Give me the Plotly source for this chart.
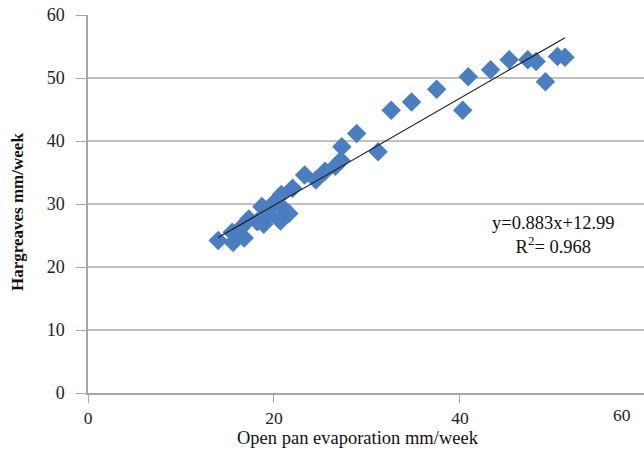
import numpy as np
import plotly.graph_objects as go

# Data
pan_evap = [14.0, 15.6, 15.5, 16.5, 16.8, 17.3, 18.2, 18.7, 18.9, 19.5, 20.0, 20.7,
            20.8, 21.2, 21.6, 22.0, 23.3, 24.5, 25.5, 26.6, 27.2, 27.3, 28.9, 31.2,
            32.6, 34.8, 37.5, 40.3, 40.9, 43.3, 45.3, 47.3, 48.2, 49.2, 50.5, 51.3]
hargreaves = [24.2, 23.9, 25.5, 26.3, 24.6, 27.6, 27.2, 29.6, 26.8, 28.4, 30.2, 27.3,
              31.5, 29.0, 28.5, 32.5, 34.6, 33.8, 35.2, 36.0, 36.9, 39.1, 41.2, 38.3,
              44.9, 46.2, 48.2, 44.9, 50.2, 51.3, 52.9, 52.9, 52.6, 49.4, 53.4, 53.3]
x_ticks = [0, 20, 40]
y_ticks = [0, 10, 20, 30, 40, 50, 60]
equation_text = "y=0.883x+12.99"
r2_text = "R<sup>2</sup>= 0.968"

FONT = "Liberation Serif"

W, H = 644, 449
L, T, B, R = 88, 15, 56, 0
PW, PH = W - L - R, H - T - B


def px(xw):
    return (xw - L) / PW


def py(yw):
    return (H - B - yw) / PH


slope, intercept = np.polyfit(pan_evap, hargreaves, 1)
xl = np.array([min(pan_evap), max(pan_evap)])
yl = slope * xl + intercept

fig = go.Figure()
fig.add_trace(go.Scatter(
    x=pan_evap, y=hargreaves, mode="markers",
    marker=dict(symbol="diamond", size=15, color="#4A7EC0", line=dict(width=0)),
    showlegend=False, cliponaxis=False))
fig.add_trace(go.Scatter(
    x=xl, y=yl, mode="lines", line=dict(color="#1f1f1f", width=1.2),
    showlegend=False))

fig.add_annotation(x=px(553), y=py(235), xref="paper", yref="paper",
                   xanchor="center", yanchor="middle",
                   text=equation_text + "<br>" + r2_text, showarrow=False,
                   font=dict(family=FONT, size=18.5, color="#111"), align="center")
fig.add_annotation(x=px(633), y=py(403), xref="paper", yref="paper",
                   xanchor="right", yanchor="top", text="60", showarrow=False,
                   font=dict(family=FONT, size=17.5, color="#222"))
fig.add_annotation(x=px(358), y=py(438), xref="paper", yref="paper",
                   xanchor="center", yanchor="middle", text="Open pan evaporation mm/week",
                   showarrow=False, font=dict(family=FONT, size=18.5, color="#111"))
fig.add_annotation(x=px(17), y=py(212), xref="paper", yref="paper",
                   xanchor="center", yanchor="middle", textangle=-90,
                   text="<b>Hargreaves mm/week</b>",
                   showarrow=False, font=dict(family=FONT, size=17, color="#111"))

fig.update_layout(
    width=W, height=H,
    margin=dict(l=L, r=R, t=T, b=B),
    paper_bgcolor="white", plot_bgcolor="white",
    font=dict(family=FONT, size=18, color="#222"),
    xaxis=dict(range=[0, 59.8], tickvals=x_ticks, showgrid=False, zeroline=False,
               showline=True, linecolor="#a6a6a6", linewidth=1.5, automargin=False,
               ticks="outside", ticklen=8, tickcolor="#a6a6a6", ticklabelstandoff=0,
               ticklabeloverflow="allow", tickfont=dict(size=17.5)),
    yaxis=dict(range=[0, 60], tickvals=y_ticks, showgrid=True, gridcolor="#c0c0c0",
               gridwidth=1.5, zeroline=False, showline=True, linecolor="#a6a6a6",
               linewidth=1.5, ticks="outside", ticklen=10, tickcolor="#a6a6a6",
               automargin=False, ticklabelstandoff=8, ticklabeloverflow="allow"),
)

fig.write_html("out.html",
               config={"displayModeBar": False},
               post_script="document.body.style.margin='0';"
                           "document.body.style.overflow='hidden';")
